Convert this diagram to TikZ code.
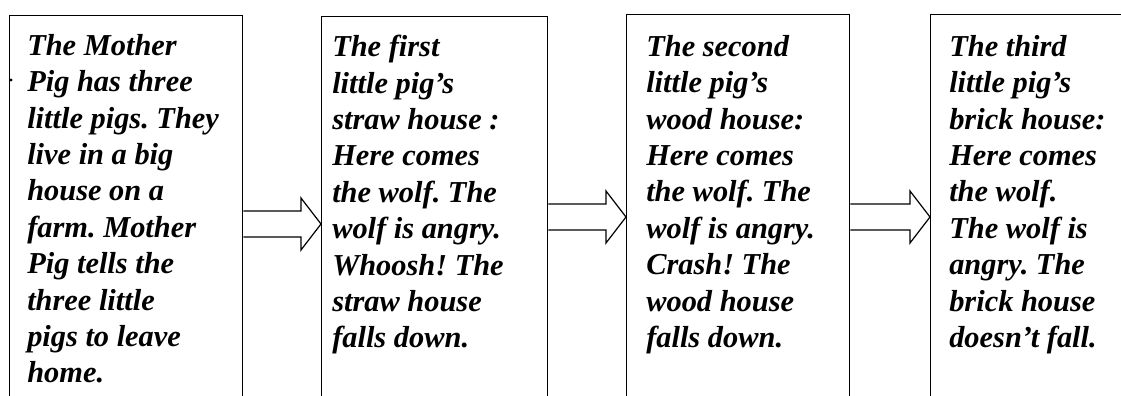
\documentclass[tikz,border=0pt]{standalone}
\usepackage{fontspec}
\setmainfont{Liberation Serif}
\frenchspacing
\usetikzlibrary{calc,positioning}
\tikzset{
    % Story panel (runs past the lower page edge)
    storybox/.style={
        draw=black,
        line width=1pt,
        minimum height=304pt,
        anchor=north west,
        inner sep=0pt
    },
    % Story text
    storytext/.style={
        anchor=north west,
        align=left,
        inner sep=0pt,
        font=\bfseries\itshape\fontsize{22.8}{27.3}\selectfont
    },
    % Hollow block arrow
    fatarrow/.style={
        draw=black,
        line width=0.9pt,
        line join=miter
    }
}
\begin{document}
\begin{tikzpicture}[x=0.75pt, y=-0.75pt]
    \useasboundingbox (0,0) rectangle (1121,396);
    \clip (0,0) rectangle (1121,396);

    % Panels
    \node[storybox, minimum width=175.1pt] (b1) at (8.5,14.5) {};
    \node[storybox, minimum width=169.5pt] (b2) at (321,16) {};
    \node[storybox, minimum width=167.3pt] (b3) at (626,14) {};
    \node[storybox, minimum width=172.5pt] (b4) at (930,14) {};

    % Texts
    \node[storytext] (t1) at (27,34) {The Mother\\Pig has three\\little pigs. They\\live in a big\\house on a\\farm. Mother\\Pig tells the\\three little\\pigs to leave\\home.};
    \node[storytext] (t2) at (332,35) {The first\\little pig’s\\straw house :\\Here comes\\the wolf. The\\wolf is angry.\\Whoosh! The\\straw house\\falls down.};
    \node[storytext] (t3) at (646,35) {The second\\little pig’s\\wood house:\\Here comes\\the wolf. The\\wolf is angry.\\Crash! The\\wood house\\falls down.};
    \node[storytext] (t4) at (949,35) {The third\\little pig’s\\brick house:\\Here comes\\the wolf.\\The wolf is\\angry. The\\brick house\\doesn’t fall.};

    % Stray bullet on the first panel
    \fill (11,80) circle (1.6);

    % Arrows
    \foreach \a/\b/\y in {b1/b2/224, b2/b3/217, b3/b4/217}
        \draw[fatarrow] ($(\a.east |- 0,\y)+(0,-13)$) -- ($(\b.west |- 0,\y)+(-20,-13)$)
            -- ($(\b.west |- 0,\y)+(-20,-26)$) -- (\b.west |- 0,\y)
            -- ($(\b.west |- 0,\y)+(-20,26)$) -- ($(\b.west |- 0,\y)+(-20,13)$)
            -- ($(\a.east |- 0,\y)+(0,13)$);
\end{tikzpicture}
\end{document}
